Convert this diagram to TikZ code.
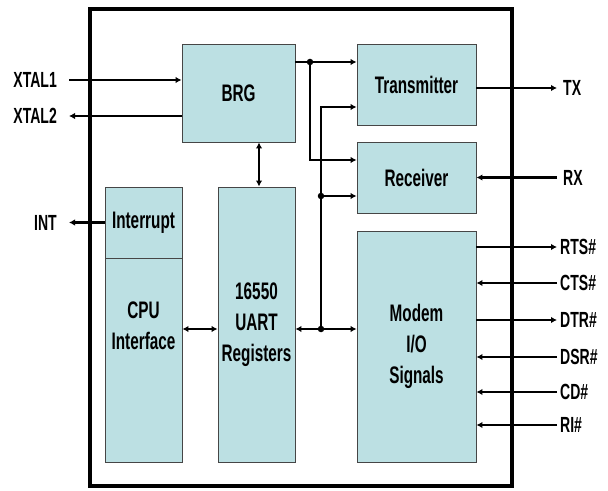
\documentclass[tikz,border=0pt]{standalone}
\usepackage{fontspec}
\setmainfont{Liberation Sans}[FakeStretch=0.64]
\usetikzlibrary{arrows.meta,calc}
\definecolor{boxfill}{RGB}{188,224,227}
\definecolor{boxline}{RGB}{70,70,70}
\tikzset{
  blk/.style={draw=boxline,line width=0.9bp,fill=boxfill,inner sep=0pt,align=center,
    font=\fontsize{24}{31}\selectfont\bfseries},
  txt/.style={inner sep=0pt,align=center,font=\fontsize{24}{31}\selectfont\bfseries},
  pin/.style={inner sep=0pt,font=\fontsize{22}{26}\selectfont\bfseries},
  arr/.style={line width=2.4bp,-{Latex[length=6bp,width=6.5bp]}},
  arrtwo/.style={line width=2.4bp,{Latex[length=6bp,width=6.5bp]}-{Latex[length=6bp,width=6.5bp]}},
  ln/.style={line width=2.4bp},
  dot/.style={circle,fill=black,inner sep=0pt,minimum size=6.5bp},
  frame/.style={line width=4bp}
}
\begin{document}
\begin{tikzpicture}[x=1bp,y=-1bp]
\useasboundingbox (0,0) rectangle (608,491);
% blocks
\node[blk,minimum width=113bp,minimum height=98bp] (brg) at (238.5,93) {BRG};
\node[blk,minimum width=119bp,minimum height=81bp] (tx) at (416.5,84.5) {Transmitter};
\node[blk,minimum width=119bp,minimum height=71bp] (rx) at (416.5,177.5) {Receiver};
\node[blk,minimum width=119bp,minimum height=231bp] (modem) at (416.5,346.5) {Modem\\I/O\\Signals};
\node[blk,minimum width=77bp,minimum height=71bp] (intr) at (143.5,222.5) {Interrupt};
\node[blk,minimum width=77bp,minimum height=204bp] (cpu) at (143.5,360) {};
\node[txt] (cputxt) at (143.5,326) {CPU\\Interface};
\node[blk,minimum width=77bp,minimum height=275bp] (uart) at (256.5,324.5) {16550\\UART\\Registers};
% frame
\draw[frame] (90,9) rectangle (512,486);
% coordinates
\coordinate (x1) at (69,80);
\coordinate (x2) at (69,116);
\coordinate (ie) at (69,222.5);
\coordinate (d1) at (310,62);
\coordinate (d1b) at (310,160);
\coordinate (b1) at (321,107);
\coordinate (b2) at (321,196);
\coordinate (b3) at (321,329);
\coordinate (v) at (259,0);
\coordinate (txe) at (557,88);
\coordinate (rxe) at (557,177.5);
\coordinate (rts) at (557,247);
\coordinate (cts) at (557,283);
\coordinate (dtr) at (557,320);
\coordinate (dsr) at (557,357);
\coordinate (cd) at (557,392);
\coordinate (ri) at (557,425);
% left pins
\draw[arr] (x1) -- (x1 -| brg.west);
\draw[arr] (x2 -| brg.west) -- (x2);
\draw[arr] (intr.west) -- (ie);
\node[pin,anchor=east] (lx1) at (57,80) {XTAL1};
\node[pin,anchor=east] (lx2) at (57,116) {XTAL2};
\node[pin,anchor=east] (lint) at (57,222.5) {INT};
% internal buses
\draw[arr] (d1 -| brg.east) -- (d1 -| tx.west);
\draw[arr] (d1) -- (d1b) -- (d1b -| rx.west);
\node[dot] (dd1) at (d1) {};
\draw[arr] (b3) -- (b1) -- (b1 -| tx.west);
\draw[arr] (b2) -- (b2 -| rx.west);
\node[dot] (db2) at (b2) {};
\draw[arrtwo] (b3 -| uart.east) -- (b3 -| modem.west);
\node[dot] (db3) at (b3) {};
\draw[arrtwo] (b3 -| cpu.east) -- (b3 -| uart.west);
\draw[arrtwo] (v |- brg.south) -- (v |- uart.north);
% right pins
\draw[arr] (txe -| tx.east) -- (txe);
\draw[arr] (rxe) -- (rx.east);
\draw[arr] (rts -| modem.east) -- (rts);
\draw[arr] (cts) -- (cts -| modem.east);
\draw[arr] (dtr -| modem.east) -- (dtr);
\draw[arr] (dsr) -- (dsr -| modem.east);
\draw[arr] (cd) -- (cd -| modem.east);
\draw[arr] (ri) -- (ri -| modem.east);
\node[pin,anchor=west] (ltx) at (563,88) {TX};
\node[pin,anchor=west] (lrx) at (563,177.5) {RX};
\node[pin,anchor=west] (lrts) at (560,247) {RTS\#};
\node[pin,anchor=west] (lcts) at (560,283) {CTS\#};
\node[pin,anchor=west] (ldtr) at (560,320) {DTR\#};
\node[pin,anchor=west] (ldsr) at (560,357) {DSR\#};
\node[pin,anchor=west] (lcd) at (560,392) {CD\#};
\node[pin,anchor=west] (lri) at (560,425) {RI\#};
\end{tikzpicture}
\end{document}
